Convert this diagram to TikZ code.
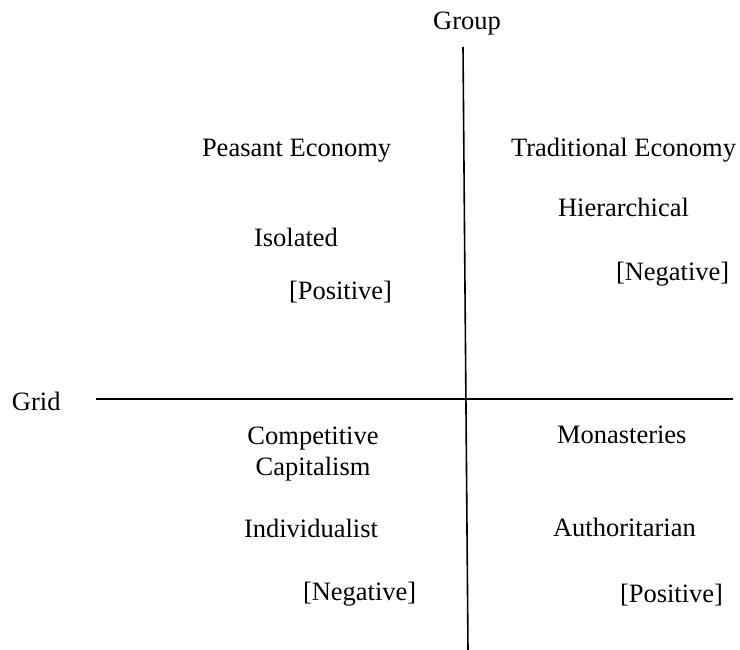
\documentclass[tikz,border=0pt]{standalone}
\usepackage{fontspec}
\setmainfont{Liberation Serif}
\begin{document}
\begin{tikzpicture}[x=1pt,y=-1pt,
  lbl/.style={inner sep=0pt,outer sep=0pt,font=\fontsize{26.5}{31}\selectfont,anchor=base west},
  axis/.style={line width=1.6pt,black}]
\useasboundingbox (0,0) rectangle (740,650);

% axes
\coordinate (vtop) at (463,47);
\coordinate (vbot) at (468,650);
\coordinate (hleft) at (96,399);
\coordinate (hright) at (733,399);
\draw[axis] (vtop) -- (vbot);
\draw[axis] (hleft) -- (hright);

% axis labels
\node[lbl,anchor=base] (group) at (467,30) {Group};
\node[lbl] (grid) at (12,410) {Grid};

% upper left quadrant
\node[lbl] (peasant) at (202,157) {Peasant Economy};
\node[lbl] (isolated) at (254,247) {Isolated};
\node[lbl] (posA) at (289,300) {[Positive]};

% upper right quadrant
\node[lbl] (traditional) at (511,157) {Traditional Economy};
\node[lbl] (hier) at (558,217) {Hierarchical};
\node[lbl] (negA) at (616,280) {[Negative]};

% lower left quadrant (base anchor sits on the last line)
\node[lbl,anchor=base,align=center] (compet) at (313,475) {Competitive\\Capitalism};
\node[lbl] (indiv) at (244,537) {Individualist};
\node[lbl] (negB) at (303,600) {[Negative]};

% lower right quadrant
\node[lbl] (monast) at (557,443) {Monasteries};
\node[lbl] (author) at (553,536) {Authoritarian};
\node[lbl] (posB) at (620,602) {[Positive]};
\end{tikzpicture}
\end{document}
